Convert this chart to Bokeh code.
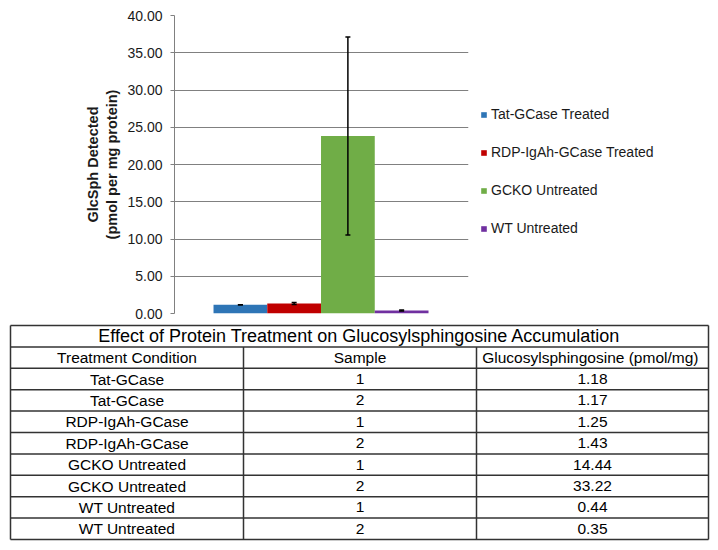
from bokeh.plotting import figure
from bokeh.models import Range1d, ColumnDataSource, Legend, LegendItem, Whisker, TeeHead, NumeralTickFormatter, FixedTicker
from bokeh.embed import file_html
from bokeh.resources import INLINE
from bokeh.core.properties import value

# ---------------- data ----------------
groups = ["Tat-GCase Treated", "RDP-IgAh-GCase Treated", "GCKO Untreated", "WT Untreated"]
means = [1.18, 1.34, 23.83, 0.40]
errors = [0.01, 0.13, 13.28, 0.06]
colors = ["#2E75B6", "#C00000", "#70AD47", "#7030A0"]
y_ticks = [0, 5, 10, 15, 20, 25, 30, 35, 40]

table_title = "Effect of Protein Treatment on Glucosylsphingosine Accumulation"
table_header = ["Treatment Condition", "Sample", "Glucosylsphingosine  (pmol/mg)"]
conditions = ["Tat-GCase", "Tat-GCase", "RDP-IgAh-GCase", "RDP-IgAh-GCase",
              "GCKO Untreated", "GCKO Untreated", "WT Untreated", "WT Untreated"]
samples = ["1", "2", "1", "2", "1", "2", "1", "2"]
glcsph = ["1.18", "1.17", "1.25", "1.43", "14.44", "33.22", "0.44", "0.35"]

FONT = "Liberation Sans"

# ---------------- bar chart ----------------
xs = list(range(1, len(groups) + 1))
src = ColumnDataSource(dict(
    x=xs, top=means, color=colors, label=groups,
    upper=[m + e for m, e in zip(means, errors)],
    lower=[m - e for m, e in zip(means, errors)],
))

p = figure(frame_width=294, frame_height=298, x_range=Range1d(-0.226, 5.244), y_range=Range1d(0, 40),
           output_backend="svg", toolbar_location=None,
           min_border_left=174, min_border_right=0, min_border_top=15, min_border_bottom=9)
p.outline_line_color = None
p.background_fill_color = "white"

bars = p.vbar(x="x", top="top", width=1.0, fill_color="color", line_color=None, source=src)

wh = Whisker(base="x", upper="upper", lower="lower", source=src, line_color="black", line_width=1.5,
             upper_head=TeeHead(size=5, line_color="black", line_width=1.5),
             lower_head=TeeHead(size=5, line_color="black", line_width=1.5))
wh.level = "overlay"
p.add_layout(wh)

p.xaxis.visible = False
p.xgrid.visible = False
p.ygrid.grid_line_color = "#808080"
p.ygrid.grid_line_width = 1

ya = p.yaxis[0]
ya.ticker = FixedTicker(ticks=y_ticks)
ya.formatter = NumeralTickFormatter(format="0.00")
ya.major_label_text_font = FONT
ya.major_label_text_font_size = "14px"
ya.major_label_text_color = "#1a1a1a"
ya.major_tick_out = 4
ya.major_tick_in = 0
ya.major_tick_line_color = "#808080"
ya.minor_tick_line_color = None
ya.axis_line_color = "#808080"
ya.major_label_standoff = 8
ya.axis_label = "GlcSph Detected\n(pmol per mg protein)"
ya.axis_label_text_font = FONT
ya.axis_label_text_font_size = "14.5px"
ya.axis_label_text_font_style = "bold"
ya.axis_label_text_color = "#1a1a1a"
ya.axis_label_standoff = 4

items = [LegendItem(label=g, renderers=[bars], index=i) for i, g in enumerate(groups)]
legend = Legend(items=items, location=(12, 77))
legend.label_text_font = FONT
legend.label_text_font_size = "14px"
legend.label_text_color = "#1a1a1a"
legend.glyph_width = 7
legend.glyph_height = 7
legend.label_standoff = 4
legend.label_height = 16
legend.spacing = 22
legend.padding = 0
legend.margin = 0
legend.border_line_color = None
legend.background_fill_alpha = 0
p.add_layout(legend, "right")

# ---------------- table ----------------
t = figure(width=716, height=220, x_range=Range1d(0, 716), y_range=Range1d(220, 0),
           output_backend="svg", toolbar_location=None, min_border=0)
t.axis.visible = False
t.grid.visible = False
t.outline_line_color = None

x0, x1 = 10, 708
col_bounds = [x0, 243, 476, x1]
top = 3
row_h = 21.4
n_rows = 2 + len(conditions)
bottom = top + n_rows * row_h

hy = [top + k * row_h for k in range(n_rows + 1)]
t.segment(x0=[x0] * len(hy), x1=[x1] * len(hy), y0=hy, y1=hy, line_color="#333333", line_width=1.5)
t.segment(x0=[x0, x1], x1=[x0, x1], y0=[top, top], y1=[bottom, bottom], line_color="#333333", line_width=1.5)
t.segment(x0=col_bounds[1:3], x1=col_bounds[1:3], y0=[top + row_h] * 2, y1=[bottom] * 2,
          line_color="#333333", line_width=1.5)

centers = [(col_bounds[i] + col_bounds[i + 1]) / 2 for i in range(3)]

t.text(x=[(x0 + x1) / 2], y=[top + row_h / 2], text=[table_title],
       text_font=value(FONT), text_font_size="18px", text_align="center", text_baseline="middle",
       text_color="black")

tx, ty, tt = [], [], []
for c in range(3):
    tx.append(centers[c]); ty.append(top + 1.5 * row_h); tt.append(table_header[c])
for r in range(len(conditions)):
    yc = top + (r + 2.5) * row_h
    for c, col in enumerate([conditions, samples, glcsph]):
        tx.append(centers[c]); ty.append(yc); tt.append(col[r])
t.text(x=tx, y=ty, text=tt, text_font=value(FONT), text_font_size="15.5px",
       text_align="center", text_baseline="middle", text_color="black")

open("out.html", "w").write(file_html([p, t], INLINE))
